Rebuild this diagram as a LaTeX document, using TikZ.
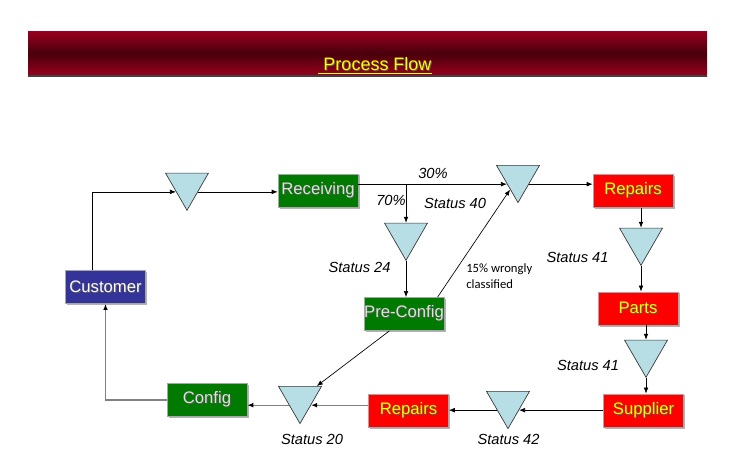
\documentclass[tikz,border=0pt]{standalone}
\usepackage{fontspec}
\setmainfont{Liberation Sans}
\newfontfamily\notefont{Carlito}
\usepackage{tikz}
\usetikzlibrary{shapes.geometric, calc, arrows.meta, shadows}

\definecolor{boxgreen}{RGB}{0,122,0}
\definecolor{boxred}{RGB}{255,0,0}
\definecolor{boxblue}{RGB}{51,51,153}
\definecolor{tricyan}{RGB}{183,222,228}
\definecolor{barred}{RGB}{155,0,30}
\definecolor{bardark}{RGB}{72,0,12}
\definecolor{textyellow}{RGB}{255,255,0}

% text with a small dark shadow
\newcommand{\shadowed}[1]{\rlap{\hspace{0.7pt}\raisebox{-0.7pt}{\color{black!65}#1}}#1}

\begin{document}
\begin{tikzpicture}[
			x=0.75pt, y=-0.75pt,
			box/.style={rectangle, draw=black!35, line width=0.4pt, fill=boxgreen, text=white!88!black, minimum width=60pt, minimum height=25pt, inner sep=0pt, font=\fontsize{12.5}{14}\selectfont, drop shadow={shadow xshift=1.2pt, shadow yshift=-1.2pt, fill=black!50, opacity=0.6}},
			redbox/.style={box, fill=boxred, text=textyellow},
			bluebox/.style={box, fill=boxblue, text=white},
			buffer/.style={regular polygon, regular polygon sides=3, shape border rotate=180, draw=black!80, line width=0.5pt, fill=tricyan, minimum size=37.2pt, inner sep=0pt},
			arrow/.style={-{Latex[length=4.5pt, width=3.5pt, black]}, line width=0.5pt},
			grayarrow/.style={arrow, draw=black!50, line width=1pt},
			status/.style={font=\fontsize{11}{13}\selectfont\itshape}
			]
			
			\useasboundingbox (0,0) rectangle (741,465);
			
			% title bar
			\shade[top color=barred, bottom color=barred, middle color=bardark] (28,31) rectangle (707,76);
			\draw[black!75, line width=0.8pt] (28,76) -- (707,76);
			\node[text=textyellow, font=\fontsize{13.5}{16}\selectfont] (title) at (375,66) {\underline{\shadowed{\ Process Flow}}};
			
			\node[bluebox] (customer) at (105.5,287) {\shadowed{Customer}};
			\node[box] (receiving) at (318,190.5) {\shadowed{Receiving}};
			\node[box] (preconfig) at (404,314) {\shadowed{Pre-Config}};
			\node[box] (config) at (207,400) {\shadowed{Config}};
			\node[redbox] (repairs) at (633,191) {\shadowed{Repairs}};
			\node[redbox] (parts) at (638,308.5) {\shadowed{Parts}};
			\node[redbox] (supplier) at (643.5,410.5) {\shadowed{Supplier}};
			\node[redbox] (repairsback) at (408.5,410.5) {\shadowed{Repairs}};
			
			\node[buffer] (buf1) at (187,185.5) {};
			\node[buffer] (buf2) at (518,177.8) {};
			\node[buffer] (buf3) at (406,235.5) {};
			\node[buffer] (buf4) at (641,240.5) {};
			\node[buffer] (buf5) at (646,352.5) {};
			\node[buffer] (buf6) at (508,403.8) {};
			\node[buffer] (buf7) at (300,398.8) {};
			
			\coordinate (split) at (buf3 |- buf2.side 3);
			
			\draw[arrow] ([xshift=-10pt]customer.north) |- (buf1.side 3);
			\draw[arrow] (buf1.side 1) -- (receiving.west |- buf1.side 1);
			\draw[arrow] (receiving.east |- buf2.side 3) -- (buf2.side 3);
			\draw[arrow] (split) -- (buf3);
			\draw[arrow] (buf3.south) -- (buf3.south |- preconfig.north);
			\draw[arrow] ([xshift=-5pt]preconfig.north east) -- (buf2);
			\draw[arrow] (buf2.side 1) -- (repairs.west |- buf2.side 1);
			\draw[arrow] (repairs.south -| buf4) -- (buf4);
			\draw[arrow] (buf4.south) -- (buf4.south |- parts.north);
			\draw[arrow] (parts.south -| buf5) -- (buf5);
			\draw[arrow] (buf5.south) -- (buf5.south |- supplier.north);
			\draw[arrow] (supplier.west |- buf6.side 1) -- (buf6.side 1);
			\draw[arrow] (buf6.side 3) -- (repairsback.east |- buf6.side 3);
			\draw[grayarrow] (repairsback.west |- buf7.side 1) -- (buf7.side 1);
			\draw[arrow] ([xshift=-11pt]preconfig.south) -- (buf7);
			\draw[grayarrow] (buf7.side 3) -- (config.east |- buf7.side 3);
			\draw[grayarrow] (config.west) -| (customer.south);
			
			% labels
			\node[status] (pct30) at (433,173) {30\%};
			\node[status] (pct70) at (391,200) {70\%};
			\node[status] (st40) at (455,203) {Status 40};
			\node[status] (st24) at (359.5,267) {Status 24};
			\node[status] (st41a) at (577.5,257) {Status 41};
			\node[status] (st41b) at (588,365) {Status 41};
			\node[status] (st42) at (508.5,439) {Status 42};
			\node[status] (st20) at (312,439) {Status 20};
			\node[font=\notefont\fontsize{9.5}{12}\selectfont, align=left, anchor=north west, inner sep=0pt] (wrong) at (466,263) {15\% wrongly\\classified};
			
		\end{tikzpicture}
\end{document}
